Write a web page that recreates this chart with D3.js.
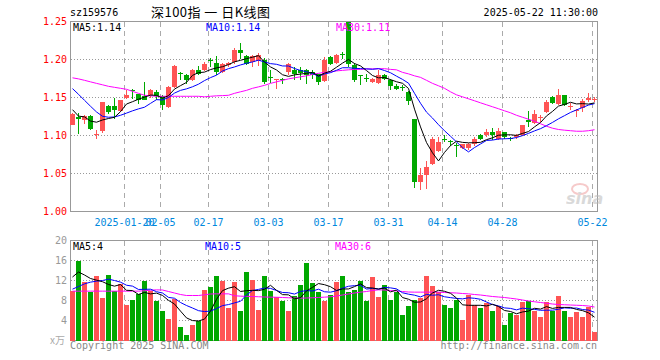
<!DOCTYPE html>
<html><head><meta charset="utf-8">
<script src="https://cdn.jsdelivr.net/npm/d3@7"></script>
<style>body{margin:0;background:#fff;} svg{display:block;}</style>
</head><body><svg id="c" width="660" height="360"></svg>
<script>
const dates = ["2025-01-07","2025-01-08","2025-01-09","2025-01-10","2025-01-13","2025-01-14","2025-01-15","2025-01-16","2025-01-17","2025-01-20","2025-01-21","2025-01-22","2025-01-23","2025-01-24","2025-01-27","2025-02-05","2025-02-06","2025-02-07","2025-02-10","2025-02-11","2025-02-12","2025-02-13","2025-02-14","2025-02-17","2025-02-18","2025-02-19","2025-02-20","2025-02-21","2025-02-24","2025-02-25","2025-02-26","2025-02-27","2025-02-28","2025-03-03","2025-03-04","2025-03-05","2025-03-06","2025-03-07","2025-03-10","2025-03-11","2025-03-12","2025-03-13","2025-03-14","2025-03-17","2025-03-18","2025-03-19","2025-03-20","2025-03-21","2025-03-24","2025-03-25","2025-03-26","2025-03-27","2025-03-28","2025-03-31","2025-04-01","2025-04-02","2025-04-03","2025-04-07","2025-04-08","2025-04-09","2025-04-10","2025-04-11","2025-04-14","2025-04-15","2025-04-16","2025-04-17","2025-04-18","2025-04-21","2025-04-22","2025-04-23","2025-04-24","2025-04-25","2025-04-28","2025-04-29","2025-04-30","2025-05-06","2025-05-07","2025-05-08","2025-05-09","2025-05-12","2025-05-13","2025-05-14","2025-05-15","2025-05-16","2025-05-19","2025-05-20","2025-05-21","2025-05-22"];
const opens = [1.1144,1.1244,1.1201,1.1253,1.1026,1.1056,1.1388,1.1384,1.1323,1.1494,1.1594,1.1542,1.1516,1.1529,1.1568,1.1516,1.1375,1.1638,1.1825,1.1791,1.1726,1.1866,1.1857,1.1990,1.1953,1.1835,1.1923,1.1966,1.2129,1.2045,1.1966,1.1979,1.1997,1.1772,1.1735,1.1748,1.1835,1.1857,1.1857,1.1857,1.1835,1.1804,1.1717,1.2032,1.1953,1.2066,1.2500,1.1932,1.1793,1.1751,1.1703,1.1690,1.1791,1.1726,1.1651,1.1640,1.1572,1.1214,1.0391,1.0479,1.0623,1.0794,1.0954,1.0932,1.0880,1.0830,1.0837,1.0882,1.1013,1.1004,1.1047,1.0960,1.1040,1.0963,1.0974,1.1004,1.1201,1.1165,1.1244,1.1310,1.1507,1.1420,1.1529,1.1384,1.1332,1.1367,1.1463,1.1476];
const highs = [1.1295,1.1297,1.1266,1.1266,1.1070,1.1437,1.1407,1.1493,1.1470,1.1594,1.1617,1.1551,1.1703,1.1617,1.1594,1.1529,1.1647,1.1922,1.1835,1.1814,1.1879,1.1913,1.1966,1.2018,1.2041,1.1953,1.1966,1.2155,1.2215,1.2063,1.2063,1.2085,1.2024,1.1857,1.1750,1.1761,1.1953,1.1900,1.1900,1.1879,1.1857,1.1814,1.2032,1.2045,1.2075,1.2097,1.2500,1.1953,1.1800,1.1814,1.1753,1.1857,1.1814,1.1748,1.1673,1.1660,1.1585,1.1214,1.0567,1.0667,1.0982,1.0982,1.1004,1.0947,1.0895,1.0890,1.0903,1.0982,1.1024,1.1092,1.1100,1.1100,1.1047,1.0982,1.1017,1.1143,1.1323,1.1341,1.1266,1.1463,1.1516,1.1608,1.1529,1.1428,1.1354,1.1486,1.1559,1.1507];
const lows = [1.1135,1.1026,1.1157,1.1070,1.0951,1.1034,1.1289,1.1223,1.1310,1.1480,1.1486,1.1420,1.1463,1.1500,1.1463,1.1341,1.1362,1.1625,1.1726,1.1683,1.1718,1.1791,1.1852,1.1900,1.1791,1.1822,1.1900,1.1945,1.2010,1.1923,1.1900,1.1913,1.1682,1.1690,1.1608,1.1673,1.1791,1.1726,1.1726,1.1683,1.1748,1.1660,1.1705,1.1932,1.1945,1.2010,1.1900,1.1703,1.1660,1.1703,1.1690,1.1682,1.1726,1.1594,1.1594,1.1585,1.1398,1.0304,1.0282,1.0290,1.0610,1.0785,1.0916,1.0860,1.0719,1.0820,1.0807,1.0860,1.0938,1.0982,1.0947,1.0947,1.0956,1.0929,1.0956,1.0995,1.1113,1.1157,1.1178,1.1297,1.1420,1.1398,1.1385,1.1341,1.1244,1.1310,1.1441,1.1441];
const closes = [1.1289,1.1214,1.1253,1.1092,1.1026,1.1437,1.1310,1.1332,1.1463,1.1529,1.1590,1.1472,1.1472,1.1594,1.1516,1.1398,1.1638,1.1909,1.1820,1.1726,1.1866,1.1814,1.1945,1.1986,1.1835,1.1945,1.1953,1.2129,1.2084,1.1945,1.2041,1.2054,1.1703,1.1769,1.1745,1.1726,1.1945,1.1804,1.1822,1.1791,1.1791,1.1703,1.1997,1.1945,1.2054,1.2063,1.1945,1.1726,1.1790,1.1748,1.1739,1.1791,1.1748,1.1651,1.1608,1.1637,1.1450,1.0391,1.0479,1.0580,1.0960,1.0916,1.0951,1.0929,1.0870,1.0882,1.0886,1.0960,1.0951,1.1047,1.1004,1.1056,1.0982,1.0960,1.1004,1.1135,1.1178,1.1289,1.1244,1.1441,1.1433,1.1529,1.1398,1.1385,1.1332,1.1454,1.1499,1.1476];
const volumes = [10.0,16.0,11.67,9.67,13.0,8.47,13.2,10.0,11.33,7.2,8.2,9.33,12.0,9.87,8.0,5.87,4.4,8.33,2.8,1.2,3.2,4.0,10.2,10.8,13.0,11.87,6.47,11.67,6.0,13.8,12.2,6.2,13.0,10.0,8.8,7.87,6.0,9.0,11.2,15.47,11.47,9.8,7.87,9.2,11.67,13.0,9.8,10.2,12.0,7.87,12.67,8.67,11.2,8.2,9.67,5.2,7.0,8.2,8.47,12.87,11.0,9.67,7.2,6.47,8.13,4.2,9.2,7.2,6.47,7.47,5.87,7.0,3.2,5.47,5.2,7.67,7.87,6.0,4.67,7.67,5.87,8.87,6.0,4.67,5.67,4.67,6.67,1.67];
const ma5Lead = [1.1340,1.1255,1.1245,1.1190];
const ma10Lead = [1.1617,1.1542,1.1463,1.1385,1.1310,1.1253,1.1240,1.1244,1.1266];
const ma30 = [1.1759,1.1745,1.1726,1.1706,1.1686,1.1667,1.1647,1.1634,1.1621,1.1608,1.1581,1.1555,1.1529,1.1522,1.1516,1.1516,1.1516,1.1516,1.1516,1.1516,1.1516,1.1516,1.1509,1.1516,1.1522,1.1525,1.1529,1.1555,1.1575,1.1594,1.1621,1.1640,1.1660,1.1686,1.1706,1.1726,1.1745,1.1759,1.1772,1.1785,1.1804,1.1818,1.1831,1.1837,1.1850,1.1857,1.1864,1.1870,1.1870,1.1877,1.1877,1.1879,1.1879,1.1870,1.1864,1.1831,1.1811,1.1785,1.1765,1.1726,1.1686,1.1654,1.1621,1.1575,1.1535,1.1509,1.1483,1.1457,1.1430,1.1404,1.1378,1.1352,1.1325,1.1299,1.1266,1.1240,1.1214,1.1188,1.1155,1.1122,1.1096,1.1079,1.1070,1.1063,1.1056,1.1056,1.1063,1.1076];
const volMa5Lead = [12.7,13.7,13.1,12.4];
const volMa10Lead = [10.27,10.8,11.33,11.67,11.87,12.0,12.27,12.0,11.67];
const volMa30 = [9.87,9.87,9.87,9.87,9.87,9.87,9.87,9.87,9.87,9.87,9.87,9.87,9.95,10.05,10.13,10.1,9.8,9.5,9.2,9.0,9.0,9.0,9.15,9.3,9.33,9.33,9.33,8.95,8.87,8.83,8.8,8.75,8.7,8.67,8.65,8.6,8.55,8.5,8.47,8.5,8.55,8.6,8.67,8.75,8.9,9.1,9.3,9.5,9.67,9.8,10.0,10.13,10.1,10.0,9.9,9.8,9.7,9.67,9.67,9.67,9.67,9.67,9.6,9.55,9.5,9.4,9.33,9.2,9.1,8.95,8.8,8.7,8.6,8.45,8.3,8.1,7.9,7.75,7.6,7.45,7.3,7.2,7.15,7.1,7.05,7.0,6.9,6.7];
const tickDates = ["2025-01-20","2025-02-05","2025-02-17","2025-03-03","2025-03-17","2025-03-31","2025-04-14","2025-04-28","2025-05-22"];
const tickLabels = ["2025-01-20","02-05","02-17","03-03","03-17","03-31","04-14","04-28","05-22"];
const priceTicks = [1.00,1.05,1.10,1.15,1.20,1.25];
const priceTickLabels = ["1.00","1.05","1.10","1.15","1.20","1.25"];
const volTicks = [4,8,12,16,20];
const volUnit = "x万";
const code = "sz159576", title = "深100指 一 日K线图", stamp = "2025-05-22 11:30:00";

const UP = "#ff5454", DOWN = "#00a800", MONO = "'DejaVu Sans Mono', monospace";
const svg = d3.select("#c");
const x = d3.scaleBand().domain(dates).range([70, 597]).paddingInner(1/6).paddingOuter(0);
const y = d3.scaleLinear().domain([1.0, 1.25]).range([211.5, 21.5]);
const yv = d3.scaleLinear().domain([0, 20]).range([340.5, 240.5]);
const cx = d => x(d) + 2.5;

function ma(arr, n, lead) {
  return arr.map((v, i) => i < n - 1 ? lead[i] : d3.mean(arr.slice(i - n + 1, i + 1)));
}
const ma5 = ma(closes, 5, ma5Lead), ma10 = ma(closes, 10, ma10Lead);
const vma5 = ma(volumes, 5, volMa5Lead), vma10 = ma(volumes, 10, volMa10Lead);

// header
svg.append("text").attr("x", 70).attr("y", 16).attr("font-family", MONO).attr("font-size", 10).text(code);
svg.append("text").attr("x", 151).attr("y", 16.5).attr("font-family", "'Noto Sans CJK SC'").attr("font-size", 13)
  .attr("textLength", 119).attr("lengthAdjust", "spacing").attr("xml:space", "preserve").text(title);
svg.append("text").attr("x", 598).attr("y", 16).attr("text-anchor", "end").attr("font-family", MONO).attr("font-size", 10).text(stamp);

function panel(ys, ticks, top, bottom) {
  const g = svg.append("g");
  g.selectAll("line.h").data(ticks.filter(t => ys(t) > top + 1 && ys(t) < bottom - 1)).enter().append("line")
    .attr("x1", 70.5).attr("x2", 597.5).attr("y1", d => Math.round(ys(d) - 0.5) + 0.5).attr("y2", d => Math.round(ys(d) - 0.5) + 0.5)
    .attr("stroke", "#999").attr("stroke-dasharray", "1,2").attr("shape-rendering", "crispEdges");
  g.selectAll("line.v").data(tickDates).enter().append("line")
    .attr("x1", d => x(d) + 0.5).attr("x2", d => x(d) + 0.5).attr("y1", top).attr("y2", bottom)
    .attr("stroke", "#aaa").attr("stroke-dasharray", "5,4").attr("shape-rendering", "crispEdges");
  g.append("rect").attr("x", 70.5).attr("y", top).attr("width", 527).attr("height", bottom - top)
    .attr("fill", "none").attr("stroke", "#999").attr("shape-rendering", "crispEdges");
}
panel(y, priceTicks, 21.5, 211.5);
panel(yv, volTicks, 240.5, 340.5);

// y labels
svg.selectAll("text.py").data(priceTicks).enter().append("text")
  .attr("x", 67).attr("y", d => y(d) + 3.5).attr("text-anchor", "end").attr("fill", "#f00")
  .attr("font-family", MONO).attr("font-size", 10).text((d, i) => priceTickLabels[i]);
svg.selectAll("text.vy").data(volTicks).enter().append("text")
  .attr("x", 67).attr("y", d => yv(d) + 3.5).attr("text-anchor", "end").attr("fill", "#999")
  .attr("font-family", MONO).attr("font-size", 10).text(d => d);
svg.append("text").attr("x", 50).attr("y", 344).attr("fill", "#aaa").attr("font-family", "'Noto Sans CJK SC'").attr("font-size", 10).text(volUnit);

// x labels
svg.selectAll("text.xl").data(tickDates).enter().append("text")
  .attr("x", d => x(d) + 0.5).attr("y", 226).attr("text-anchor", "middle").attr("fill", "#0088dd")
  .attr("font-family", MONO).attr("font-size", 10).text((d, i) => tickLabels[i]);

// watermark
const wm = svg.append("g").attr("opacity", 0.55);
wm.append("ellipse").attr("cx", 580).attr("cy", 189).attr("rx", 8).attr("ry", 5).attr("fill", "none").attr("stroke", "#f0a0a0").attr("stroke-width", 2);
wm.append("text").attr("x", 566).attr("y", 204).attr("font-family", "'DejaVu Sans'").attr("font-weight", "bold").attr("font-style", "italic").attr("font-size", 16).attr("fill", "#bbb").text("sina");

// candles
const idx = d3.range(dates.length);
const cg = svg.append("g").attr("shape-rendering", "crispEdges");
idx.forEach(i => {
  const col = closes[i] >= opens[i] ? UP : DOWN;
  const d = dates[i];
  cg.append("line").attr("x1", cx(d)).attr("x2", cx(d)).attr("y1", Math.max(21.5, y(highs[i]))).attr("y2", y(lows[i])).attr("stroke", col);
  const top = Math.round(Math.max(21.5, y(Math.max(opens[i], closes[i]))));
  const bot = Math.round(y(Math.min(opens[i], closes[i])));
  cg.append("rect").attr("x", x(d)).attr("width", x.bandwidth()).attr("y", top).attr("height", Math.max(1, bot - top)).attr("fill", col);
});

// volume bars
svg.append("g").attr("shape-rendering", "crispEdges").selectAll("rect").data(idx).enter().append("rect")
  .attr("x", i => x(dates[i])).attr("width", x.bandwidth())
  .attr("y", i => yv(volumes[i])).attr("height", i => 340.5 - yv(volumes[i]))
  .attr("fill", i => closes[i] >= opens[i] ? UP : DOWN);

// MA lines
function drawLine(vals, ys, color) {
  svg.append("path").datum(idx).attr("fill", "none").attr("stroke", color).attr("stroke-width", 1)
    .attr("d", d3.line().x(i => cx(dates[i])).y(i => ys(vals[i])));
}
drawLine(ma30, y, "#ff00ff"); drawLine(ma10, y, "#0000ff"); drawLine(ma5, y, "#000");
drawLine(volMa30, yv, "#ff00ff"); drawLine(vma10, yv, "#0000ff"); drawLine(vma5, yv, "#000");

// MA legends
const last = a => a[a.length - 1];
const f2 = d3.format(".2f");
[[73, "MA5:" + f2(last(ma5)), "#000"], [206, "MA10:" + f2(last(ma10)), "#00f"], [336, "MA30:" + f2(last(ma30)), "#f0f"]]
  .forEach(([lx, t, c]) => svg.append("text").attr("x", lx).attr("y", 30.5).attr("fill", c).attr("font-family", MONO).attr("font-size", 10).text(t));
[[73, "MA5:" + Math.floor(last(vma5)), "#000"], [205, "MA10:" + Math.floor(last(vma10)), "#00f"], [335, "MA30:" + Math.floor(last(volMa30)), "#f0f"]]
  .forEach(([lx, t, c]) => svg.append("text").attr("x", lx).attr("y", 249.5).attr("fill", c).attr("font-family", MONO).attr("font-size", 10).text(t));

// footer
svg.append("text").attr("x", 70).attr("y", 348.5).attr("fill", "#888").attr("font-family", MONO).attr("font-size", 10).text("Copyright 2025 SINA.COM");
svg.append("text").attr("x", 597).attr("y", 348.5).attr("text-anchor", "end").attr("fill", "#888").attr("font-family", MONO).attr("font-size", 10).text("http://finance.sina.com.cn");
</script></body></html>
